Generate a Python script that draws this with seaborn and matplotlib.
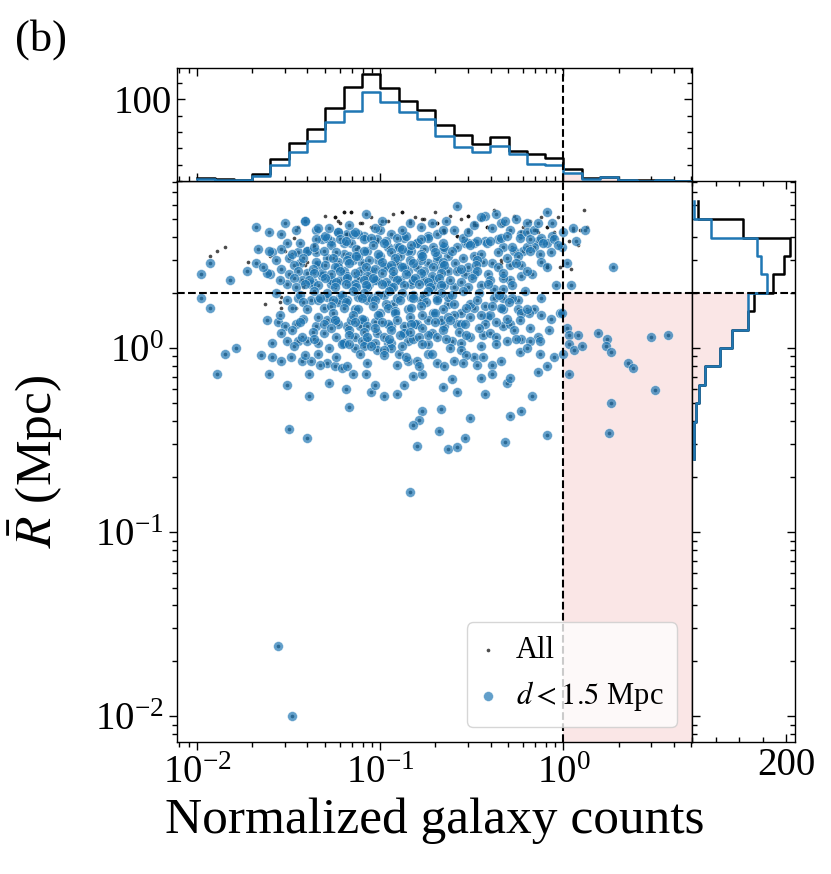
import numpy as np
import pandas as pd
import matplotlib
matplotlib.use("Agg")
import matplotlib.pyplot as plt
import seaborn as sns
from matplotlib.ticker import (LogLocator, NullFormatter, FixedLocator,
                               MultipleLocator, LogFormatterMathtext)

# ---------------- data ----------------
# scatter points: log10(normalized galaxy counts), log10(R_bar / Mpc)
log_counts_close = [
    -1.68, -1.61, -1.54, -1.41, -1.35, -1.08, -0.58, -0.64, -0.72, -0.26,
    -0.20, -0.09, -0.06, -0.43, -0.37, -0.45, 0.05, 0.12, 0.07, -0.06,
    -0.01, -0.14, -0.23, -0.29, -0.34, -0.54, -0.49, -0.43, -0.36, -0.33,
    -0.22, -0.16, -0.12, 0.02, 0.27, -0.04, 0.04, -0.13, -0.17, -0.23,
    -0.29, -0.23, -0.29, -0.33, -0.39, -0.44, -0.49, -0.54, -0.59, -0.63,
    -0.66, -0.71, -0.74, -0.80, -0.83, -0.87, -0.91, -0.94, -1.00, -1.03,
    -1.09, -1.12, -1.18, -1.23, -1.27, -1.32, -1.35, -1.40, -1.45, -1.51,
    -1.54, -1.59, -1.61, -1.67, -1.73, -1.68, -1.82, -1.93, -1.98, -1.60,
    -1.62, -1.54, -1.50, -1.44, -1.40, -1.34, -1.29, -1.23, -1.20, -1.15,
    -1.10, -1.05, -1.01, -0.96, -0.91, -0.85, -0.80, -0.74, -0.69, -0.63,
    -0.58, -0.52, -1.51, -1.43, -1.37, -1.32, -1.27, -1.22, -1.16, -1.12,
    -1.06, -1.02, -0.96, -0.89, -0.83, -0.76, -0.71, -0.65, -0.60, -0.45,
    -0.38, -0.33, -0.24, -0.20,
    -1.41, -1.34, -1.35, -1.40, -1.29, -1.23, -1.16, -1.20, -1.12, -1.07,
    -1.02, -0.96, -0.91, -0.85, -0.80, -0.74, -0.69, -0.65, -0.60, -0.52,
    -0.49, -0.42, -0.34, -0.27, -0.20, -0.09, -0.05, -1.23, -1.18, -1.11,
    -1.03, -0.98, -0.93, -0.87, -0.82, -0.76, -0.71, -0.67, -1.14, -1.07,
    -1.27, -1.32, -1.38, -1.00, -1.09, -1.20, -0.89, -0.78, -0.94,
    -1.38, -1.31, -1.22, -1.14, -1.07, -1.00, -0.93, -0.85, -0.78, -0.71,
    -0.63, -0.56, -0.49, -0.42, -0.33, -0.25, -0.16, -1.25, -1.18, -1.09,
    -1.02, -0.94, -0.87, -0.80, -0.72, -0.65, -0.58, -1.20, -1.07, -0.96,
    -0.85, -0.74,
    -1.98, -1.93, -1.51, -1.45, -1.34, -1.29, -1.23, -1.18, -1.12, -1.05,
    -0.98, -0.91, -0.83, -0.76, -0.69, -0.63, -0.51, -0.43, -0.38, -0.33,
    -0.28, -0.34, -0.25, -0.19, -0.07, -0.02, -1.62, -1.56, -1.52, -1.46,
    -1.42, -1.35, -1.29, -1.23, -1.16, -1.11, -1.03, -0.96, -0.87, -0.81,
    -0.74, -0.67, -0.60, -0.56, -0.51, -0.43, -0.40, -0.33, -0.29, -0.23,
    -0.18, -0.14, -0.08, -1.59, -1.54, -1.51, -1.45, -1.40, -1.34, -1.31,
    -1.24, -1.20, -1.14, -1.10, -1.03, -0.98, -0.94, -0.87, -0.82, -0.74,
    -0.69, -0.61, -0.56, -0.51, -0.44, -0.40, -0.31, -0.23, -0.18, -0.13,
    -1.85, -1.79, -1.65, -1.59, -1.54, -1.49, -1.43, -1.38, -1.34, -1.29,
    -1.25, -1.21, -1.14, -1.09, -1.02, -0.94, -0.90, -0.85, -0.80, -0.74,
    -0.69, -0.65, -0.60, -0.56, -0.49, -0.39, -0.34, -0.24, -0.13, -0.05,
    -1.89, -1.61, -1.39, -1.51, -1.28, -1.21, -1.19, -1.15, -1.08, -1.05,
    -1.03, -0.98, -0.91, -0.87, -0.82, -0.77, -0.66, -0.61, -0.58, -0.45,
    -0.43, -0.39, -0.31, -0.29, -0.14, -0.17, -0.09, -1.39, -1.17, -0.77,
    -0.79, -0.82, -0.67, -0.51, -0.29, -0.23, -0.68, -1.50, -1.40, -0.80,
    -0.63, -0.58, -0.54, -0.32, -0.09, -0.84, -1.56, -1.48,
    0.02, 0.03, 0.08, 0.19, 0.24, 0.48, 0.57, 0.03, 0.06, 0.10,
    0.23, 0.26, 0.35, 0.38, 0.03, 0.50, 0.26, 0.25, -0.01, 0.00,
    # dense core of the cloud
    -1.30, -1.22, -1.15, -1.05, -0.97, -0.86, -0.78, -0.69, -0.55, -0.47, -0.31, -0.18,
    -1.44, -1.36, -1.27, -1.19, -1.13, -1.04, -0.98, -0.90, -0.83, -0.76, -0.66, -0.58,
    -0.51, -0.40, -0.28, -0.11, -0.03,
    -1.48, -1.31, -1.24, -1.17, -1.09, -1.01, -0.94, -0.88, -0.78, -0.70, -0.61, -0.45,
    -0.36, -0.25, -0.18, -0.07,
    -1.57, -1.42, -1.35, -1.26, -1.18, -1.13, -1.06, -0.99, -0.92, -0.84, -0.77, -0.66,
    -0.55, -0.47, -0.31, -0.12,
    -1.64, -1.47, -1.37, -1.30, -1.25, -1.17, -1.08, -1.03, -0.94, -0.88, -0.82, -0.71,
    -0.65, -0.56, -0.48, -0.36, -0.26, -0.09,
    -1.50, -1.45, -1.36, -1.27, -1.22, -1.14, -1.07, -0.99, -0.93, -0.86, -0.78, -0.72,
    -0.67, -0.47, -0.41, -0.33, -0.20,
    -1.55, -1.47, -1.39, -1.30, -1.24, -1.18, -1.09, -1.04, -0.97, -0.91, -0.81, -0.74,
    -0.68, -0.62, -0.56, -0.50, -0.40,
    -1.46, -1.41, -1.34, -1.25, -1.19, -1.13, -1.08, -0.99, -0.93, -0.87, -0.79, -0.73,
    -0.67, -0.52, -0.41, -0.28,
    -1.57, -1.44, -1.36, -1.29, -1.21, -1.15, -1.09, -1.01, -0.95, -0.88, -0.82, -0.74,
    -0.67, -0.61, -0.55, -0.46, -0.35, -0.21,
    -1.42, -1.33, -1.26, -1.19, -1.10, -1.03, -0.97, -0.89, -0.82, -0.75, -0.69, -0.60,
    -0.47, -0.30, -0.12,
    -1.48, -1.40, -1.27, -1.20, -1.12, -1.04, -0.96, -0.92, -0.83, -0.78, -0.66, -0.53,
    -0.39, -0.20,
    -1.55, -1.34, -1.26, -1.15, -1.10, -1.01, -0.92, -0.84, -0.77, -0.70, -0.63, -0.45,
    -0.31, -0.12,
    -1.44, -1.31, -1.25, -1.14, -1.07, -0.99, -0.91, -0.83, -0.70, -0.62, -0.54, -0.37,
    -0.24,
    -1.48, -1.37, -1.27, -1.17, -1.09, -1.03, -0.94, -0.84, -0.77, -0.66, -0.57, -0.46,
    -0.27,
    -1.43, -1.36, -1.17, -1.07, -0.95, -0.89, -0.79, -0.64, -0.53, -0.37, -0.26,
    -1.47, -1.28, -1.17, -1.05, -0.98, -0.88, -0.77, -0.62, -0.45, -0.37, -0.20,
    -1.41, -1.24, -1.11, -0.98, -0.86, -0.72, -0.53, -0.44,
    -1.33, -1.18, -1.07, -0.91, -0.79, -0.55, -0.47,
    -1.46, -1.28, -1.14, -0.88, -0.78, -0.66, -0.52, -0.39, -0.16, 0.00,
    -1.52, -1.17, -0.99, -0.84, -0.49, -0.32, -0.14,
]
log_rbar_close = [
    0.66, 0.63, 0.62, 0.69, 0.64, 0.73, 0.77, 0.69, 0.68, 0.70,
    0.68, 0.74, 0.68, 0.72, 0.73, 0.71, 0.65, 0.64, 0.58, 0.61,
    0.55, 0.58, 0.62, 0.64, 0.68, 0.57, 0.57, 0.58, 0.59, 0.55,
    0.53, 0.55, 0.60, 0.46, 0.44, 0.34, 0.34, 0.51, 0.40, 0.45,
    0.45, 0.39, 0.37, 0.38, 0.46, 0.47, 0.40, 0.40, 0.46, 0.50,
    0.54, 0.55, 0.61, 0.57, 0.53, 0.60, 0.55, 0.62, 0.64, 0.65,
    0.61, 0.62, 0.62, 0.63, 0.58, 0.59, 0.52, 0.53, 0.52, 0.57,
    0.54, 0.52, 0.53, 0.54, 0.42, 0.46, 0.37, 0.46, 0.40, 0.40,
    0.41, 0.43, 0.49, 0.46, 0.41, 0.45, 0.49, 0.47, 0.42, 0.48,
    0.46, 0.42, 0.48, 0.44, 0.46, 0.42, 0.44, 0.46, 0.48, 0.42,
    0.42, 0.44, 0.35, 0.37, 0.36, 0.39, 0.35, 0.37, 0.34, 0.38,
    0.35, 0.37, 0.34, 0.37, 0.35, 0.37, 0.33, 0.34, 0.33, 0.34,
    0.32, 0.32, 0.60, 0.63,
    0.69, 0.65, 0.59, 0.53, 0.60, 0.63, 0.57, 0.51, 0.50, 0.53,
    0.59, 0.55, 0.60, 0.53, 0.57, 0.60, 0.50, 0.55, 0.64, 0.57,
    0.50, 0.57, 0.60, 0.53, 0.55, 0.57, 0.59, 0.44, 0.39, 0.42,
    0.37, 0.44, 0.39, 0.44, 0.37, 0.42, 0.37, 0.44, 0.35, 0.33,
    0.37, 0.41, 0.35, 0.50, 0.59, 0.57, 0.50, 0.48, 0.33,
    0.26, 0.22, 0.28, 0.21, 0.26, 0.19, 0.24, 0.21, 0.26, 0.19,
    0.24, 0.19, 0.22, 0.17, 0.21, 0.26, 0.21, 0.15, 0.12, 0.15,
    0.08, 0.12, 0.08, 0.13, 0.08, 0.12, 0.13, 0.03, 0.04, 0.03,
    0.04, 0.02,
    0.27, 0.22, 0.26, 0.27, 0.26, 0.28, 0.25, 0.26, 0.28, 0.27,
    0.29, 0.27, 0.28, 0.29, 0.27, 0.28, 0.24, 0.23, 0.27, 0.27,
    0.27, 0.22, 0.21, 0.19, 0.16, 0.19, 0.15, 0.14, 0.12, 0.13,
    0.16, 0.12, 0.15, 0.13, 0.15, 0.12, 0.14, 0.13, 0.12, 0.13,
    0.15, 0.15, 0.18, 0.13, 0.17, 0.13, 0.18, 0.12, 0.13, 0.19,
    0.11, 0.06, 0.10, 0.03, 0.08, 0.04, 0.04, 0.04, 0.03, 0.08,
    0.06, 0.03, 0.06, 0.04, 0.03, 0.06, 0.03, 0.08, 0.05, 0.07,
    0.06, 0.04, 0.03, 0.06, 0.07, 0.08, 0.04, 0.05, 0.04, 0.04,
    -0.03, 0.00, -0.04, -0.05, -0.07, -0.05, -0.07, -0.07, -0.03, -0.08,
    -0.10, 0.02, 0.00, 0.01, -0.01, 0.00, -0.03, -0.07, -0.07, -0.03,
    -0.08, -0.10, -0.07, -0.01, -0.05, -0.09, -0.07, -0.02, -0.03, -0.05,
    -0.14, -0.14, -0.14, -0.20, -0.19, -0.11, -0.22, -0.14, -0.14, -0.24,
    -0.20, -0.26, -0.25, -0.20, -0.15, -0.14, -0.21, -0.17, -0.24, -0.16,
    -0.25, -0.14, -0.19, -0.16, -0.13, -0.26, -0.10, -0.26, -0.32, -0.34,
    -0.39, -0.42, -0.33, -0.38, -0.37, -0.34, -0.45, -0.44, -0.49, -0.53,
    -0.55, -0.54, -0.49, -0.51, -0.47, -0.78, -1.62, -2.00,
    0.11, 0.07, 0.07, 0.08, 0.05, 0.06, 0.07, 0.02, -0.01, 0.01,
    0.01, -0.02, -0.08, -0.11, -0.14, -0.23, -0.30, -0.46, 0.19, -0.03,
    # dense core of the cloud
    0.61, 0.59, 0.62, 0.60, 0.58, 0.61, 0.59, 0.62, 0.60, 0.58, 0.61, 0.59,
    0.57, 0.55, 0.56, 0.58, 0.54, 0.56, 0.57, 0.55, 0.56, 0.54, 0.57, 0.55,
    0.56, 0.58, 0.55, 0.57, 0.56,
    0.51, 0.53, 0.52, 0.50, 0.53, 0.51, 0.52, 0.54, 0.51, 0.52, 0.53, 0.51,
    0.52, 0.50, 0.53, 0.52,
    0.48, 0.49, 0.47, 0.49, 0.48, 0.50, 0.48, 0.47, 0.49, 0.48, 0.50, 0.47,
    0.49, 0.48, 0.49, 0.47,
    0.44, 0.45, 0.43, 0.45, 0.44, 0.46, 0.44, 0.43, 0.45, 0.44, 0.46, 0.44,
    0.45, 0.43, 0.45, 0.44, 0.46, 0.44,
    0.40, 0.42, 0.41, 0.40, 0.42, 0.41, 0.39, 0.41, 0.42, 0.40, 0.41, 0.39,
    0.41, 0.42, 0.40, 0.41, 0.42,
    0.37, 0.38, 0.37, 0.38, 0.36, 0.38, 0.37, 0.38, 0.36, 0.37, 0.38, 0.36,
    0.38, 0.37, 0.36, 0.38, 0.37,
    0.33, 0.35, 0.34, 0.33, 0.35, 0.33, 0.34, 0.35, 0.33, 0.34, 0.35, 0.33,
    0.34, 0.33, 0.35, 0.34,
    0.30, 0.29, 0.31, 0.30, 0.29, 0.31, 0.30, 0.29, 0.31, 0.30, 0.29, 0.31,
    0.30, 0.29, 0.31, 0.30, 0.29, 0.31,
    0.25, 0.27, 0.26, 0.25, 0.27, 0.26, 0.24, 0.26, 0.27, 0.25, 0.26, 0.24,
    0.26, 0.25, 0.27,
    0.22, 0.21, 0.23, 0.22, 0.21, 0.23, 0.22, 0.20, 0.22, 0.23, 0.21, 0.22,
    0.23, 0.21,
    0.18, 0.17, 0.19, 0.18, 0.16, 0.18, 0.19, 0.17, 0.18, 0.19, 0.17, 0.18,
    0.16, 0.18,
    0.14, 0.13, 0.15, 0.14, 0.12, 0.14, 0.15, 0.13, 0.14, 0.15, 0.13, 0.14,
    0.15,
    0.10, 0.09, 0.11, 0.10, 0.09, 0.11, 0.10, 0.09, 0.11, 0.10, 0.09, 0.11,
    0.10,
    0.06, 0.05, 0.07, 0.06, 0.05, 0.07, 0.06, 0.05, 0.07, 0.06, 0.05,
    0.01, 0.00, 0.02, 0.01, -0.01, 0.01, 0.02, 0.00, 0.01, 0.02, 0.00,
    -0.04, -0.05, -0.03, -0.04, -0.05, -0.03, -0.04, -0.05,
    -0.09, -0.10, -0.08, -0.09, -0.10, -0.08, -0.09,
    0.64, 0.65, 0.63, 0.64, 0.66, 0.64, 0.63, 0.65, 0.64, 0.63,
    0.68, 0.67, 0.69, 0.68, 0.67, 0.69, 0.68,
]
# galaxies of the full sample that are not within 1.5 Mpc
log_counts_other = [
    -1.89, -1.93, -1.25, -1.20, -1.16, -0.88, -0.76, -0.52, 0.11, 0.13,
    0.05, 0.09, 0.03, 0.04, -0.02, -0.09, -0.96, -1.10, -1.05, -1.19,
    -1.47, -1.52, -1.54, -1.55, -1.63, -1.54, -1.46, -1.42, -1.23, -1.22,
    -0.84, -0.69, -0.65, -0.58, -0.52, -0.48, -0.42, -0.14, -0.09, -0.05,
    -0.34, -0.58, -0.83, -1.40, -1.36, -1.12, -1.02, -1.25, -1.20, -1.16,
    -1.11, -0.97, -0.88, -0.77, -0.69, -0.52, -0.49, -0.42, -0.33, -0.23,
    -0.15, -0.09, -1.41, -1.35, -1.18, -0.65, -0.58, -0.34, -0.09,
    -1.30, -1.05, -0.93, -0.81, -0.62, -0.45, -0.27, -0.18, -0.03, 0.08,
    -1.60, -1.72, -1.85, -1.45, -0.70, -0.38, -0.12, -1.00, -0.56, -0.22,
]
log_rbar_other = [
    0.53, 0.50, 0.71, 0.74, 0.74, 0.74, 0.70, 0.72, 0.75, 0.66,
    0.64, 0.64, 0.58, 0.43, 0.44, 0.45, 0.69, 0.68, 0.66, 0.62,
    0.60, 0.53, 0.28, 0.25, 0.24, 0.22, 0.22, 0.33, 0.69, 0.68,
    0.69, 0.68, 0.64, 0.61, 0.64, 0.67, 0.66, 0.63, 0.66, 0.63,
    0.48, 0.42, 0.39, 0.47, 0.56, 0.55, 0.58, 0.71, 0.74, 0.74,
    0.68, 0.69, 0.74, 0.70, 0.68, 0.72, 0.68, 0.66, 0.67, 0.63,
    0.64, 0.66, 0.45, 0.46, 0.62, 0.63, 0.61, 0.46, 0.44,
    0.72, 0.71, 0.73, 0.71, 0.72, 0.70, 0.72, 0.69, 0.71, 0.56,
    0.50, 0.47, 0.55, 0.66, 0.74, 0.75, 0.71, 0.67, 0.70, 0.66,
]

count_threshold = 1.0      # normalized galaxy counts
rbar_threshold = 2.0       # Mpc

# top histogram (log10 bins of 0.1 dex from -2.0 to 0.7)
top_log_edges = [-2.0, 0.7]
top_counts_all = [4, 2, 1, 8, 27, 47, 63, 89, 115, 131, 114, 98, 87, 69,
                  56, 45, 54, 37, 33, 28, 15, 3, 5, 1, 1, 1, 0]
top_counts_close = [2, 1, 1, 6, 20, 35, 49, 72, 85, 109, 96, 84, 76, 55,
                    42, 35, 43, 33, 21, 20, 10, 2, 5, 1, 0, 1, 0]
# right histogram (log10 bins of 0.1 dex from -0.6 to 0.8), bottom to top
right_log_edges = [-0.6, 0.8]
right_counts_all = [3, 3, 7, 14, 27, 60, 85, 118, 132, 171, 194, 208, 107, 13]
right_counts_close = [3, 3, 7, 14, 27, 60, 85, 118, 118, 159, 147, 137, 39, 4]

# ---------------- style ----------------
plt.rcParams["font.family"] = "serif"
plt.rcParams["font.serif"] = ["Liberation Serif", "DejaVu Serif"]
plt.rcParams["mathtext.fontset"] = "stix"
plt.rcParams["axes.linewidth"] = 1.0

BLUE = "#1f77b4"
PINK = "#fae6e6"
TICK_FS = 28
LABEL_FS = 37

close_df = pd.DataFrame({"counts": np.power(10.0, log_counts_close),
                         "rbar": np.power(10.0, log_rbar_close)})
other_df = pd.DataFrame({"counts": np.power(10.0, log_counts_other),
                         "rbar": np.power(10.0, log_rbar_other)})
all_df = pd.concat([close_df, other_df], ignore_index=True)

n_top = len(top_counts_all)
top_edges = np.linspace(top_log_edges[0], top_log_edges[1], n_top + 1)
top_centers = np.power(10.0, 0.5 * (top_edges[:-1] + top_edges[1:]))
top_df = pd.DataFrame({"counts": top_centers, "all": top_counts_all,
                       "close": top_counts_close})
top_bins = [float(v) for v in top_edges]

n_right = len(right_counts_all)
right_edges = np.linspace(right_log_edges[0], right_log_edges[1], n_right + 1)
right_centers = np.power(10.0, 0.5 * (right_edges[:-1] + right_edges[1:]))
right_df = pd.DataFrame({"rbar": right_centers, "all": right_counts_all,
                         "close": right_counts_close})
right_bins = [float(v) for v in right_edges]

xlim = (10 ** -2.11, 10 ** 0.703)
ylim = (10 ** -2.14, 10 ** 0.908)

fig = plt.figure(figsize=(8.31, 8.74), dpi=100)
ax = fig.add_axes([0.213, 0.151, 0.620, 0.642])
ax_top = fig.add_axes([0.213, 0.793, 0.620, 0.129], sharex=ax)
ax_right = fig.add_axes([0.833, 0.151, 0.124, 0.642], sharey=ax)

# ---------------- main scatter ----------------
ax.set_xscale("log")
ax.set_yscale("log")
ax.fill_betweenx([ylim[0], rbar_threshold], count_threshold, xlim[1],
                 color=PINK, lw=0, zorder=0)
sns.scatterplot(data=all_df, x="counts", y="rbar", ax=ax, s=7, color="k",
                alpha=0.7, linewidth=0, label="All", zorder=2)
sns.scatterplot(data=close_df, x="counts", y="rbar", ax=ax, s=50, color=BLUE,
                alpha=0.7, edgecolor="white", linewidth=0.4,
                label="$d < 1.5$ Mpc", zorder=3)
ax.axvline(count_threshold, color="k", ls="--", lw=1.5, zorder=4)
ax.axhline(rbar_threshold, color="k", ls="--", lw=1.5, zorder=4)
ax.set_xlim(*xlim)
ax.set_ylim(*ylim)
ax.set_xlabel("Normalized galaxy counts", fontsize=LABEL_FS, labelpad=4)
ax.set_ylabel(r"$\bar{R}$ (Mpc)", fontsize=LABEL_FS, labelpad=22)
for axis in (ax.xaxis, ax.yaxis):
    axis.set_major_locator(LogLocator(base=10, numticks=20))
    axis.set_minor_locator(LogLocator(base=10, subs=np.arange(2, 10), numticks=20))
    axis.set_major_formatter(LogFormatterMathtext())
    axis.set_minor_formatter(NullFormatter())
ax.tick_params(which="both", direction="out", labelsize=TICK_FS, width=1.0)
ax.tick_params(which="major", length=6)
ax.tick_params(which="minor", length=3.5)
leg = ax.legend(loc="lower right", fontsize=22, handlelength=0.5,
                handletextpad=0.65, borderpad=0.45, labelspacing=0.45,
                frameon=True, markerscale=1.0)
leg.get_frame().set_edgecolor("0.8")

# ---------------- top histogram ----------------
sel_top = (top_df["counts"] >= count_threshold).to_numpy()
first_top = int(np.argmax(sel_top))
sns.histplot(data=top_df[sel_top], x="counts", weights="close",
             bins=top_bins[first_top:], log_scale=(True, False),
             element="step", fill=True, color=PINK, alpha=1, linewidth=0,
             ax=ax_top, zorder=0)
sns.histplot(data=top_df, x="counts", weights="all", bins=top_bins,
             log_scale=(True, False), element="step", fill=False, color="k",
             linewidth=1.8, ax=ax_top, zorder=2)
sns.histplot(data=top_df, x="counts", weights="close", bins=top_bins,
             log_scale=(True, False), element="step", fill=False, color=BLUE,
             linewidth=1.8, ax=ax_top, zorder=3)
ax_top.axvline(count_threshold, color="k", ls="--", lw=1.5, zorder=4)
ax_top.set_ylim(0, 138)
ax_top.set_xlabel("")
ax_top.set_ylabel("")
ax_top.yaxis.set_major_locator(FixedLocator([100]))
ax_top.yaxis.set_minor_locator(MultipleLocator(20))
ax_top.tick_params(which="both", direction="in", top=True, right=True,
                   labelbottom=False, labelsize=TICK_FS, width=1.0)
ax_top.tick_params(which="major", length=6)
ax_top.tick_params(which="minor", length=3.5)

# ---------------- right histogram ----------------
sel_right = (right_df["rbar"] < rbar_threshold).to_numpy()
n_sel = int(sel_right.sum())
sns.histplot(data=right_df[sel_right], y="rbar", weights="close",
             bins=right_bins[:n_sel + 1], log_scale=(False, True),
             element="step", fill=True, color=PINK, alpha=1, linewidth=0,
             ax=ax_right, zorder=0)
sns.histplot(data=right_df, y="rbar", weights="all", bins=right_bins,
             log_scale=(False, True), element="step", fill=False, color="k",
             linewidth=1.8, ax=ax_right, zorder=2)
sns.histplot(data=right_df, y="rbar", weights="close", bins=right_bins,
             log_scale=(False, True), element="step", fill=False, color=BLUE,
             linewidth=1.8, ax=ax_right, zorder=3)
ax_right.axhline(rbar_threshold, color="k", ls="--", lw=1.5, zorder=4)
ax_right.set_xlim(0, 219)
ax_right.set_ylim(*ylim)
ax_right.set_xlabel("")
ax_right.set_ylabel("")
ax_right.xaxis.set_major_locator(FixedLocator([200]))
ax_right.xaxis.set_minor_locator(MultipleLocator(50))
ax_right.tick_params(which="both", direction="in", top=True, right=True,
                     labelleft=False, labelsize=TICK_FS, width=1.0)
ax_right.tick_params(which="major", length=6)
ax_right.tick_params(which="minor", length=3.5)

fig.text(0.018, 0.978, "(b)", fontsize=32, va="top", ha="left")

fig.savefig("out.png", dpi=100)
